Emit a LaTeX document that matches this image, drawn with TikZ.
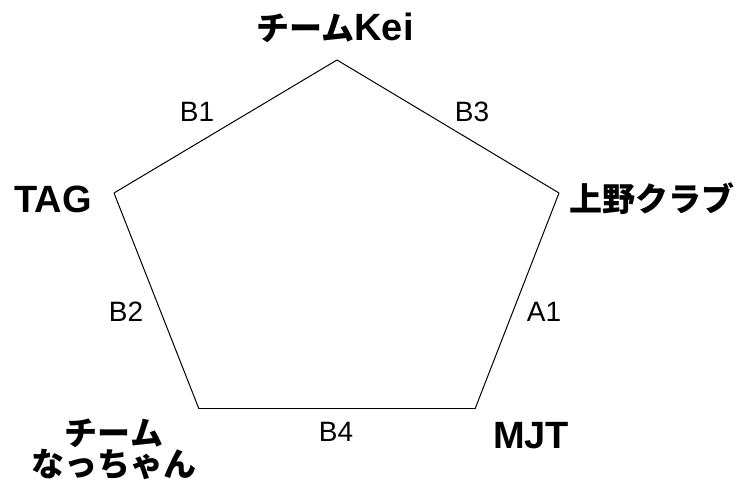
\documentclass[tikz,border=0pt]{standalone}
\usepackage{fontspec}
\setmainfont{Liberation Sans}
\newfontfamily\jpfont{Noto Sans CJK JP}
\newcommand{\jp}[1]{{\jpfont\bfseries\fontsize{33}{39}\selectfont #1}}
\newcommand{\lat}[1]{{\bfseries\fontsize{38}{39}\selectfont #1}}

\begin{document}
\begin{tikzpicture}[x=1pt,y=-1pt,line width=1pt,
  team/.style={inner sep=0pt, align=center},
  game/.style={inner sep=0pt, font=\fontsize{28}{30}\selectfont}]

\useasboundingbox (0,0) rectangle (740,486);

% corners of the pentagon
\coordinate (kei) at (337,60);
\coordinate (ueno) at (559,193);
\coordinate (mjt) at (475,409);
\coordinate (nat) at (199,409);
\coordinate (tag) at (114,193);

% team names
\node[team] (keiL) at (335,28) {\jp{チーム}\lat{Kei}};
\node[team] (uenoL) at (652,199) {\jp{上野クラブ}};
\node[team] (mjtL) at (531,436) {\lat{MJT}};
\node[team] (natL) at (114,449) {\jp{チーム}\\[0pt]\jp{なっちゃん}};
\node[team] (tagL) at (53,199) {\lat{TAG}};

% games
\path (tag) edge (kei)
      (kei) edge (ueno)
      (ueno) edge (mjt)
      (mjt) edge (nat)
      (nat) edge (tag);

\node[game] (b1) at (197,112) {B1};
\node[game] (b3) at (472,112) {B3};
\node[game] (b2) at (126,312) {B2};
\node[game] (a1) at (544,312) {A1};
\node[game] (b4) at (336,432) {B4};

\end{tikzpicture}
\end{document}
